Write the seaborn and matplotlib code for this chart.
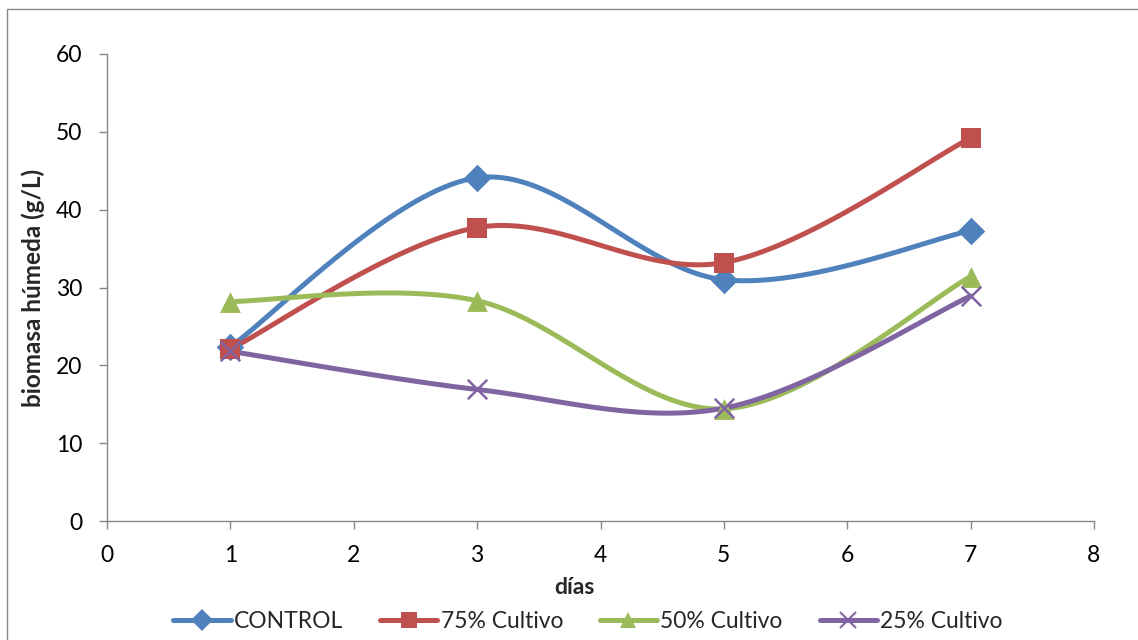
import numpy as np
import pandas as pd
import matplotlib
matplotlib.use("Agg")
import matplotlib.pyplot as plt
from matplotlib.lines import Line2D
from matplotlib.patches import Rectangle
import seaborn as sns

# ---- data ----
dias = [1, 3, 5, 7]
control = [22.4, 44.1, 31.0, 37.3]
cultivo75 = [22.1, 37.7, 33.2, 49.2]
cultivo50 = [28.2, 28.3, 14.4, 31.4]
cultivo25 = [21.8, 16.9, 14.5, 28.9]
series_names = ["CONTROL", "75% Cultivo", "50% Cultivo", "25% Cultivo"]
x_ticks = [0, 1, 2, 3, 4, 5, 6, 7, 8]
y_ticks = [0, 10, 20, 30, 40, 50, 60]

colors = ["#4F81BD", "#C0504D", "#9BBB59", "#8064A2"]
markers = ["D", "s", "^", "x"]
msizes = [14, 14, 15, 14]

sns.set_theme(style="white")
plt.rcParams["font.family"] = ["Lato", "DejaVu Sans"]


def smooth(xs, ys, n=40):
    """Excel-style smoothed line: cubic Bezier with Catmull-Rom control points."""
    P = np.column_stack([xs, ys]).astype(float)
    m = len(P)
    out = []
    t = np.linspace(0, 1, n)[:, None]
    for i in range(m - 1):
        p0 = P[i]
        p3 = P[i + 1]
        pm = P[i - 1] if i > 0 else P[i]
        pp = P[i + 2] if i + 2 < m else P[i + 1]
        c1 = p0 + (p3 - pm) / 6.0
        c2 = p3 - (pp - p0) / 6.0
        seg = ((1 - t) ** 3) * p0 + 3 * ((1 - t) ** 2) * t * c1 + 3 * (1 - t) * t ** 2 * c2 + t ** 3 * p3
        out.append(seg if i == 0 else seg[1:])
    arr = np.vstack(out)
    return arr[:, 0], arr[:, 1]


fig = plt.figure(figsize=(11.38, 6.4), dpi=100)
ax = fig.add_axes([107 / 1138, 1 - 521 / 640, (1094 - 107) / 1138, (521 - 54) / 640])

# outer chart border
fig.patches.append(Rectangle((7 / 1138, 1 - 700 / 640), 1.2, (700 - 9) / 640,
                             transform=fig.transFigure, fill=False,
                             edgecolor="#868686", linewidth=1.0))

all_series = [control, cultivo75, cultivo50, cultivo25]
handles = []
for name, vals, c, mk, ms in zip(series_names, all_series, colors, markers, msizes):
    sx, sy = smooth(dias, vals)
    df = pd.DataFrame({"x": sx, "y": sy})
    sns.lineplot(data=df, x="x", y="y", sort=False, estimator=None, color=c,
                 linewidth=3.6, ax=ax, legend=False, solid_capstyle="round")
    pts = pd.DataFrame({"x": dias, "y": vals})
    if mk == "x":
        sns.scatterplot(data=pts, x="x", y="y", marker="x", s=ms ** 2, color=c,
                        linewidth=1.8, ax=ax, legend=False, zorder=5)
    else:
        sns.scatterplot(data=pts, x="x", y="y", marker=mk, s=ms ** 2, color=c,
                        edgecolor=c, linewidth=0, ax=ax, legend=False, zorder=5)
    handles.append(Line2D([0], [0], color=c, lw=3.6, marker=mk, markersize=ms * 0.78,
                          markeredgewidth=1.5 if mk == "x" else 0,
                          solid_capstyle="round", label=name))

ax.set_xlim(0, 8)
ax.set_ylim(0, 60)
ax.set_xticks(x_ticks)
ax.set_yticks(y_ticks)
ax.set_xticklabels([str(v) for v in x_ticks])
ax.set_yticklabels([str(v) for v in y_ticks])

for s in ["top", "right"]:
    ax.spines[s].set_visible(False)
for s in ["left", "bottom"]:
    ax.spines[s].set_color("#868686")
    ax.spines[s].set_linewidth(1.0)

ax.tick_params(axis="both", which="major", direction="out", length=6, width=1,
               color="#868686", labelsize=16.5, labelcolor="black",
               left=True, bottom=True)
ax.tick_params(axis="y", pad=12)
ax.tick_params(axis="x", pad=11)

ax.set_xlabel("días", fontsize=16.5, fontweight="bold")
ax.xaxis.set_label_coords((574 - 107) / 987, -(588 - 521) / 467)
ax.xaxis.label.set_verticalalignment("center")
ax.set_ylabel("biomasa húmeda (g/L)", fontsize=17.5, fontweight="bold")
ax.yaxis.set_label_coords((33 - 107) / 987, 0.5)
ax.yaxis.label.set_verticalalignment("center")

leg = fig.legend(handles=handles, loc="center", bbox_to_anchor=(588 / 1138, 1 - 622 / 640),
                 ncol=4, frameon=False, prop={"size": 16.5},
                 handlelength=2.5, handletextpad=0.15, columnspacing=1.6)

fig.savefig("out.png", dpi=100)
